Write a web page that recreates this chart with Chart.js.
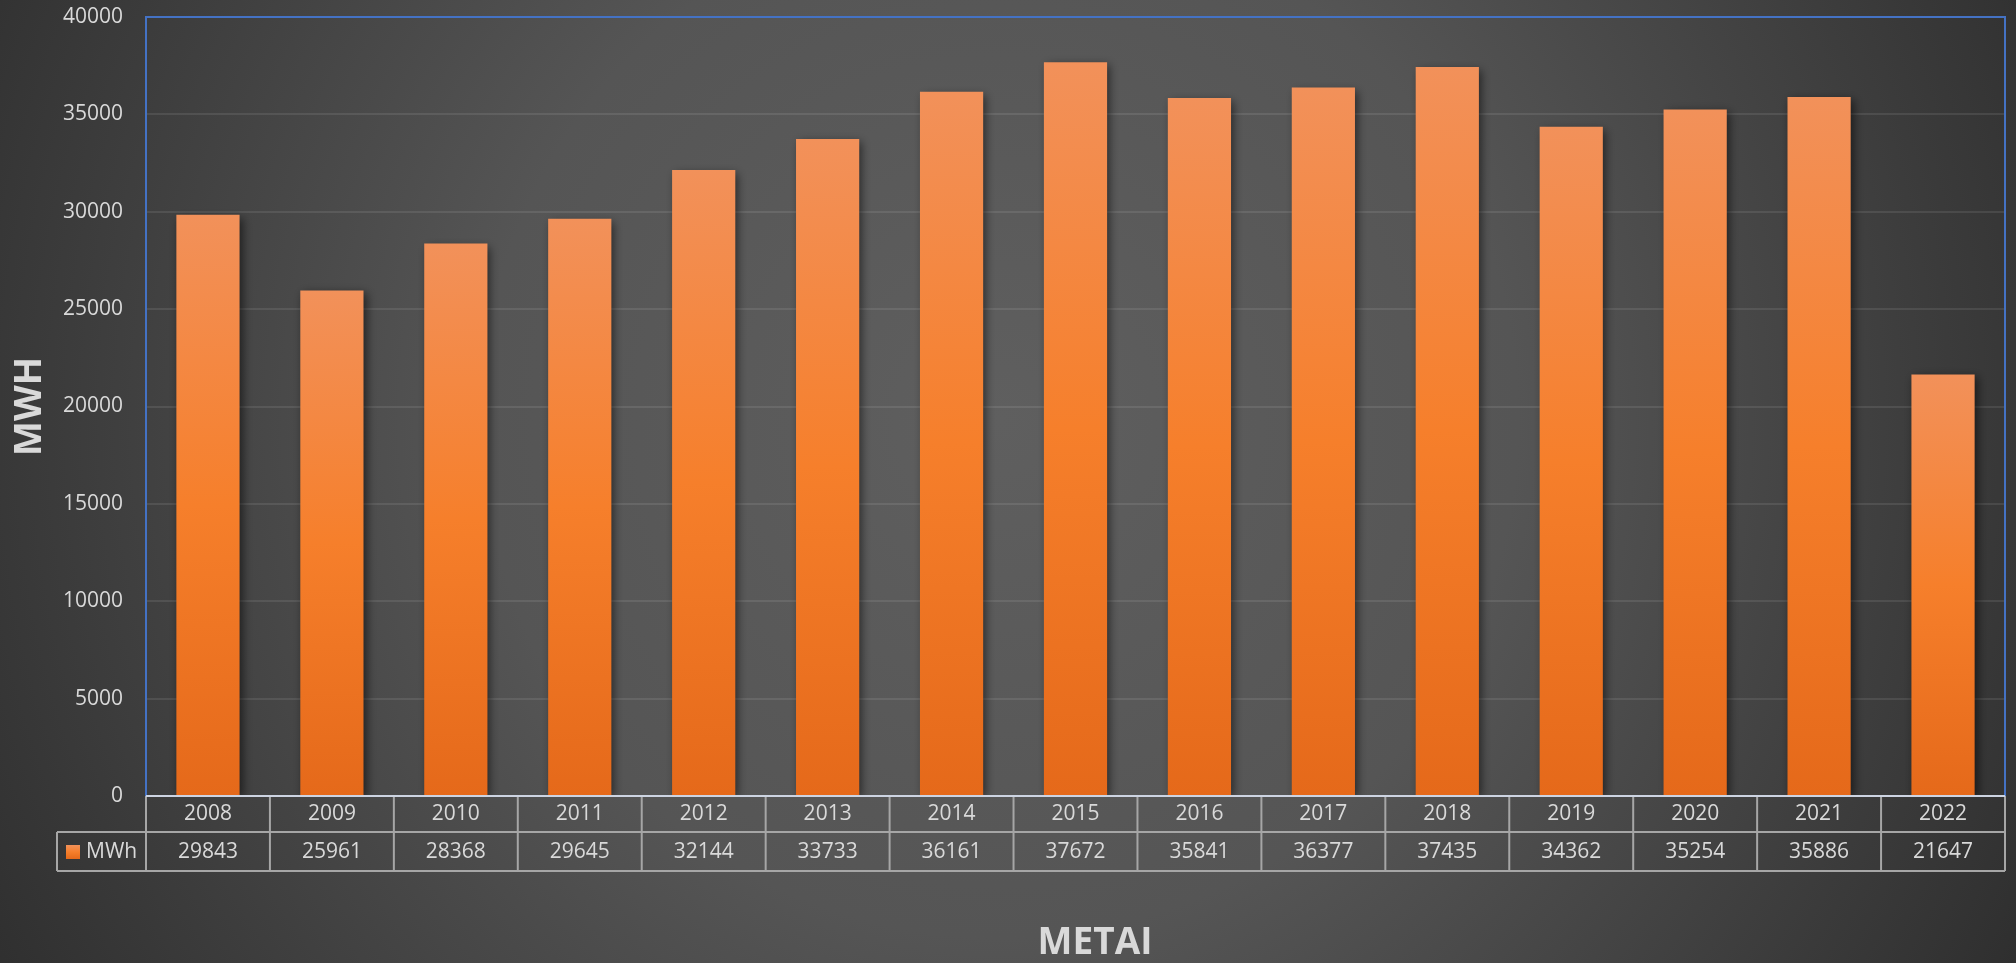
<!DOCTYPE html>
<html>
<head>
<meta charset="utf-8">
<script src="https://cdn.jsdelivr.net/npm/chart.js@4/dist/chart.umd.min.js"></script>
<style>
  html, body { margin: 0; padding: 0; background: #333; overflow: hidden; }
  canvas { display: block; }
</style>
</head>
<body>
<canvas id="metaiChart" width="2016" height="963"></canvas>
<script>
// chart data
const years = ['2008', '2009', '2010', '2011', '2012', '2013', '2014', '2015', '2016', '2017', '2018', '2019', '2020', '2021', '2022'];
const mwhValues = [29843, 25961, 28368, 29645, 32144, 33733, 36161, 37672, 35841, 36377, 37435, 34362, 35254, 35886, 21647];
const seriesName = 'MWh';
const yTitle = 'MWH';
const xTitle = 'METAI';

const textColor = '#d9d9d9';
const fontFamily = '"Open Sans", "Liberation Sans", sans-serif';

function barGradient(ctx, top, bottom) {
    const g = ctx.createLinearGradient(0, top, 0, bottom);
    g.addColorStop(0, '#F2915A');
    g.addColorStop(0.5, '#F67F2B');
    g.addColorStop(1, '#E5691A');
    return g;
}

// background, shadows, frame and the data table under the plot
const excelLook = {
    id: 'excelLook',
    beforeDraw(chart) {
        const ctx = chart.ctx;
        const g = ctx.createRadialGradient(1000, 420, 0, 1000, 420, 1150);
        g.addColorStop(0, '#5f5f5f');
        g.addColorStop(0.45, '#555555');
        g.addColorStop(1, '#2f2f2f');
        ctx.save();
        ctx.fillStyle = g;
        ctx.fillRect(0, 0, chart.width, chart.height);
        ctx.restore();
    },
    beforeDatasetsDraw(chart) {
        const ctx = chart.ctx;
        ctx.save();
        ctx.shadowColor = 'rgba(0,0,0,0.55)';
        ctx.shadowBlur = 9;
        ctx.shadowOffsetX = 3;
        ctx.shadowOffsetY = 3;
    },
    afterDatasetsDraw(chart) {
        chart.ctx.restore();
    },
    afterDraw(chart) {
        const ctx = chart.ctx;
        const area = chart.chartArea;
        const x = chart.scales.x;
        const n = years.length;
        const colW = (x.getPixelForValue(n - 1) - x.getPixelForValue(0)) / (n - 1);
        const r0 = area.bottom, r1 = area.bottom + 36, r2 = area.bottom + 75;
        const legendLeft = 57;

        ctx.save();
        // plot frame
        ctx.strokeStyle = '#4472C4';
        ctx.lineWidth = 2;
        ctx.beginPath();
        ctx.moveTo(area.left, area.bottom);
        ctx.lineTo(area.left, area.top);
        ctx.lineTo(area.right, area.top);
        ctx.lineTo(area.right, area.bottom);
        ctx.stroke();

        // table lines
        ctx.strokeStyle = '#a6a6a6';
        ctx.beginPath();
        ctx.moveTo(legendLeft, r1); ctx.lineTo(area.right, r1);
        ctx.moveTo(legendLeft, r2); ctx.lineTo(area.right, r2);
        ctx.moveTo(legendLeft, r1); ctx.lineTo(legendLeft, r2);
        for (let i = 0; i <= n; i++) {
            const ex = x.getPixelForValue(i) - colW / 2;
            ctx.moveTo(ex, r0); ctx.lineTo(ex, r2);
        }
        ctx.stroke();

        // axis line
        ctx.strokeStyle = '#cdd4e2';
        ctx.beginPath();
        ctx.moveTo(area.left, area.bottom);
        ctx.lineTo(area.right, area.bottom);
        ctx.stroke();

        // table text
        ctx.fillStyle = textColor;
        ctx.font = '21px ' + fontFamily;
        ctx.textAlign = 'center';
        ctx.textBaseline = 'middle';
        years.forEach((yr, i) => {
            const cx = x.getPixelForValue(i);
            ctx.fillText(yr, cx, (r0 + r1) / 2);
            ctx.fillText(String(mwhValues[i]), cx, (r1 + r2) / 2 + 1);
        });

        // legend key
        ctx.fillStyle = barGradient(ctx, 845, 859);
        ctx.fillRect(66, 845, 14, 14);
        ctx.fillStyle = textColor;
        ctx.textAlign = 'left';
        ctx.fillText(seriesName, 86, (r1 + r2) / 2 + 1);

        // axis titles
        ctx.font = 'bold 37px ' + fontFamily;
        ctx.fillStyle = '#d9d9d9';
        ctx.textAlign = 'center';
        ctx.fillText(xTitle, 1095, 943);
        ctx.translate(30, (area.top + area.bottom) / 2);
        ctx.rotate(-Math.PI / 2);
        ctx.fillText(yTitle, 0, 0);
        ctx.restore();
    }
};

const ctx = document.getElementById('metaiChart').getContext('2d');
const metaiChart = new Chart(ctx, {
    type: 'bar',
    data: {
        labels: years,
        datasets: [{
            label: seriesName,
            data: mwhValues,
            backgroundColor: (c) => {
                const chart = c.chart;
                if (!chart.chartArea || c.dataIndex === undefined) return '#F47E2A';
                const y = chart.scales.y;
                return barGradient(chart.ctx, y.getPixelForValue(mwhValues[c.dataIndex]), y.getPixelForValue(0));
            },
            borderWidth: 0,
            categoryPercentage: 1,
            barPercentage: 0.51
        }]
    },
    options: {
        responsive: false,
        animation: false,
        devicePixelRatio: 1,
        layout: { padding: { left: 0, top: 17, right: 11, bottom: 0 } },
        plugins: {
            legend: { display: false },
            tooltip: { enabled: false }
        },
        scales: {
            x: {
                ticks: { display: false },
                grid: { display: false },
                border: { display: false },
                afterFit(scale) {
                    scale.height = 167;
                    scale.paddingLeft = 0;
                    scale.paddingRight = 0;
                }
            },
            y: {
                min: 0,
                max: 40000,
                ticks: {
                    stepSize: 5000,
                    color: textColor,
                    padding: 23,
                    font: { family: fontFamily, size: 21 },
                    callback: (v) => String(v)
                },
                grid: { color: 'rgba(255,255,255,0.09)', lineWidth: 2, drawTicks: false },
                border: { display: false },
                afterFit(scale) {
                    scale.width = 146;
                    scale.paddingTop = 0;
                    scale.paddingBottom = 0;
                }
            }
        }
    },
    plugins: [excelLook]
});
</script>
</body>
</html>
